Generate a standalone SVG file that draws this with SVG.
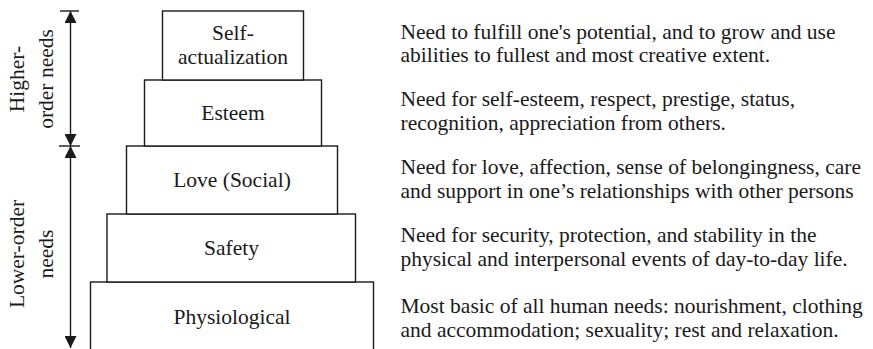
<svg xmlns="http://www.w3.org/2000/svg" width="873" height="349" viewBox="0 0 873 349">
  <style>
    .box { fill: #ffffff; stroke: #1a1a1a; stroke-width: 1.4; }
    .lbl { font-family: "Liberation Serif", "Times New Roman", serif; font-size: 21.5px; fill: #1a1a1a; text-anchor: middle; }
    .desc { font-family: "Liberation Serif", "Times New Roman", serif; font-size: 21.5px; fill: #1a1a1a; }
    .axis { stroke: #1a1a1a; stroke-width: 1.4; fill: none; }
  </style>
  <defs>
    <marker id="head" viewBox="0 0 12 12" refX="12" refY="6" markerWidth="12" markerHeight="12" markerUnits="userSpaceOnUse" orient="auto-start-reverse">
      <path d="M0,0 L12,6 L0,12 Z" fill="#1a1a1a"/>
    </marker>
  </defs>

  <rect width="873" height="349" fill="#ffffff"/>

  <!-- pyramid tiers, bottom first so upper edges sit on top -->
  <g id="physiological">
    <rect class="box" x="90.5" y="282" width="283" height="80"/>
    <text class="lbl" x="232" y="323.5">Physiological</text>
  </g>
  <g id="safety">
    <rect class="box" x="107" y="214" width="248.5" height="68"/>
    <text class="lbl" x="231.5" y="255">Safety</text>
  </g>
  <g id="love">
    <rect class="box" x="126.5" y="146" width="211" height="68"/>
    <text class="lbl" x="232" y="187">Love (Social)</text>
  </g>
  <g id="esteem">
    <rect class="box" x="144.5" y="80" width="177" height="66"/>
    <text class="lbl" x="233" y="120">Esteem</text>
  </g>
  <g id="self-actualization">
    <rect class="box" x="162.5" y="11" width="141" height="69"/>
    <text class="lbl" x="233" y="39.5">Self-</text>
    <text class="lbl" x="233" y="64">actualization</text>
  </g>

  <!-- need descriptions -->
  <g id="descriptions">
    <text class="desc" x="400.5" y="38.5">Need to fulfill one's potential, and to grow and use</text>
    <text class="desc" x="400.5" y="62">abilities to fullest and most creative extent.</text>
    <text class="desc" x="400.5" y="106">Need for self-esteem, respect, prestige, status,</text>
    <text class="desc" x="400.5" y="129.5">recognition, appreciation from others.</text>
    <text class="desc" x="400.5" y="174">Need for love, affection, sense of belongingness, care</text>
    <text class="desc" x="400.5" y="198">and support in one’s relationships with other persons</text>
    <text class="desc" x="400.5" y="242">Need for security, protection, and stability in the</text>
    <text class="desc" x="400.5" y="266">physical and interpersonal events of day-to-day life.</text>
    <text class="desc" x="400.5" y="313">Most basic of all human needs: nourishment, clothing</text>
    <text class="desc" x="400.5" y="336.5">and accommodation; sexuality; rest and relaxation.</text>
  </g>

  <!-- range arrows on the left -->
  <g id="connectors">
    <line class="axis" x1="60" y1="11" x2="79" y2="11"/>
    <line class="axis" x1="59" y1="146" x2="80" y2="146"/>
    <line class="axis" x1="70.5" y1="11" x2="70.5" y2="146" marker-start="url(#head)" marker-end="url(#head)"/>
    <line class="axis" x1="70.5" y1="146" x2="70.5" y2="348" marker-start="url(#head)" marker-end="url(#head)"/>
  </g>

  <g id="higher-order-label">
    <text class="lbl" transform="translate(24,79) rotate(-90)">Higher-</text>
    <text class="lbl" transform="translate(52.5,79) rotate(-90)">order needs</text>
  </g>
  <g id="lower-order-label">
    <text class="lbl" transform="translate(23.5,254) rotate(-90)">Lower-order</text>
    <text class="lbl" transform="translate(52.5,254) rotate(-90)">needs</text>
  </g>
</svg>
